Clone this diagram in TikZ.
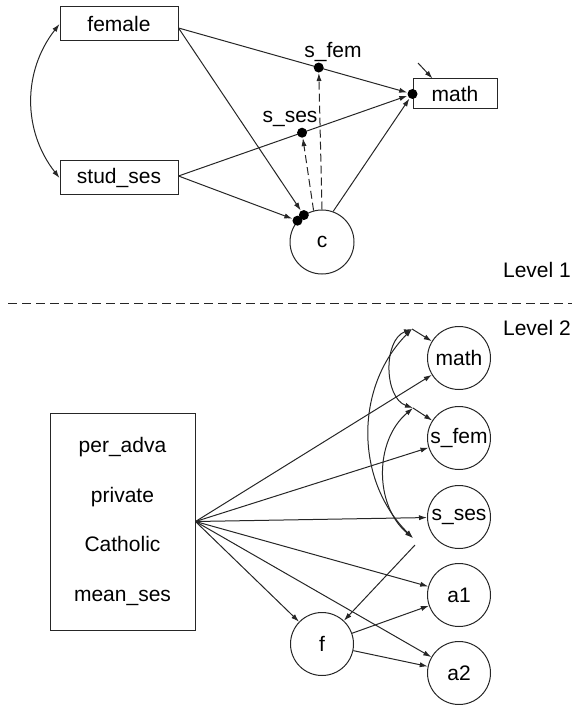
\documentclass[tikz,border=0pt]{standalone}
\usepackage{fontspec}
\setmainfont{Liberation Sans}
\usetikzlibrary{arrows.meta, positioning}
\tikzstyle{obs} = [draw, rectangle, minimum width=59pt, minimum height=17pt, inner sep=1pt]
\tikzstyle{latent} = [draw, circle, minimum size=31.5pt, inner sep=0pt]
\tikzstyle{dot} = [circle, fill, inner sep=0pt, minimum size=5pt]
\tikzstyle{path} = [-{Latex[length=4pt, width=2.6pt]}]
\tikzstyle{cov} = [{Latex[length=4pt, width=2.6pt]}-{Latex[length=4pt, width=2.6pt]}]
\tikzstyle{random} = [path, dash pattern=on 4pt off 2pt]

\begin{document}
\begin{tikzpicture}[x=0.5pt, y=-0.5pt, line width=0.5pt, draw=black!85, font=\fontsize{10.5}{12.6}\selectfont]
    \useasboundingbox (0,0) rectangle (580,705);

    % Level 1 variables.
    \node (female) [obs] at (119,24) {female};
    \node (stud ses) [obs] at (119,178) {stud\_ses};
    \node (math) [obs, minimum width=42pt, minimum height=15pt] at (455,94) {math};
    \node (c) [latent, minimum size=32pt] at (322,242) {c};

    % Dots where paths meet.
    \node (math in) [dot] at (math.west) {};
    \node (c in fem) [dot] at (c.124) {};
    \node (c in ses) [dot] at (c.139) {};

    % Paths to math, with random slopes on them.
    \draw [path] ([yshift=-2pt]female.east) -- (math in) node (s fem) [dot, pos=0.613] {};
    \draw [path] ([yshift=1pt]stud ses.east) -- (math in) node (s ses) [dot, pos=0.54] {};
    \node (s fem label) at (333,52) {s\_fem};
    \node (s ses label) at (290,119) {s\_ses};

    % Paths to c.
    \draw [path] ([yshift=-2pt]female.east) -- (c in fem);
    \draw [path] ([yshift=1pt]stud ses.east) -- (c in ses);
    \draw [path] (c.70) -- (math in);
    \draw [random] (c.north) -- (s fem);
    \draw [random] (c.105) -- (s ses);

    % Covariance and error.
    \draw [cov] (female.west) to [bend right=38] (stud ses.west);
    \coordinate (math err) at (418,63);
    \draw [path] (math err) -- ([xshift=10pt]math.north west);

    % Levels.
    \coordinate (sep west) at (8,303);
    \coordinate (sep east) at (572,303);
    \draw [dash pattern=on 4.5pt off 2.5pt] (sep west) -- (sep east);
    \node (level 1) [anchor=east] at (578,270) {Level 1};
    \node (level 2) [anchor=east] at (578,328) {Level 2};

    % Level 2 variables.
    \node (school) [draw, minimum width=72.5pt, minimum height=108.5pt, align=center] at (122.5,521.5)
        {per\_adva\\[12.15pt] private\\[12.15pt] Catholic\\[12.15pt] mean\_ses};
    \foreach \n/\t/\y in {math 2/math/358, s fem 2/s\_fem/438, s ses 2/s\_ses/517, a1/a1/595, a2/a2/673} {%
        \node (\n) [latent] at (459,\y) {\t};
    }
    \node (f) [latent] at (322,644) {f};

    % Paths from school variables.
    \foreach \n in {math 2, s fem 2, s ses 2, a1, a2, f} {%
        \draw [path] (school.east) -- (\n);
    }
    \draw [path] (f) -- (a1);
    \draw [path] (f) -- (a2);

    % Covariances.
    \coordinate (cov 1) at (412,329);
    \coordinate (cov 2) at (413,408);
    \coordinate (cov 3) at (413,538);
    \coordinate (f err) at (415,545);
    \draw [path] (cov 1) -- (math 2);
    \draw [path] (cov 2) -- (s fem 2);
    \draw [path] (f err) -- (f);
    \draw [cov] (cov 1) to [bend right=45] (cov 3);
    \draw [cov] (cov 1) to [bend right=70] (cov 2);
    \draw [cov] (cov 2) to [bend right=50] (cov 3);
\end{tikzpicture}
\end{document}
